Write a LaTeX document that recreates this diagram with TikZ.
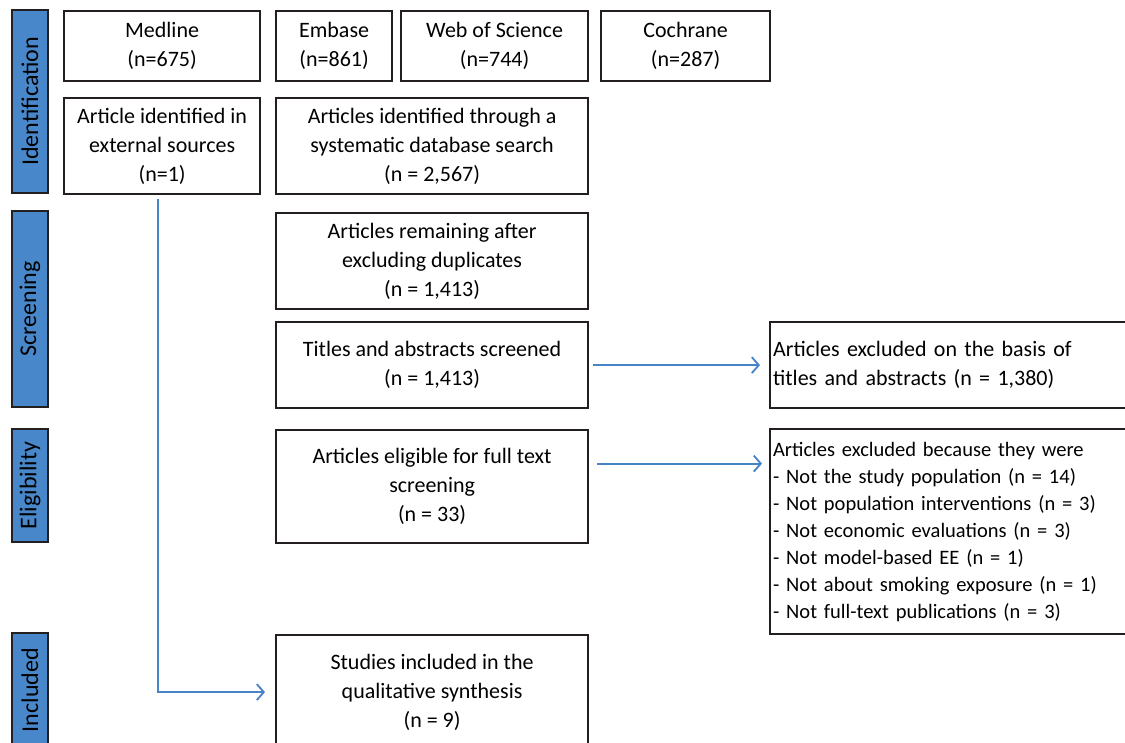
\documentclass[tikz,border=0pt]{standalone}
\usepackage{fontspec}
\setmainfont{Carlito}
\usepackage{xcolor}
\usetikzlibrary{arrows.meta}
\definecolor{barblue}{RGB}{72,136,202}
\definecolor{lineblue}{RGB}{70,132,198}
\definecolor{edgegray}{RGB}{35,31,32}
\tikzstyle{box} = [draw=edgegray,line width=2.2pt,align=center,inner sep=0pt,anchor=north west,font=\fontsize{22}{29}\selectfont]
\tikzstyle{exclbox} = [draw=edgegray,line width=2.2pt,align=left,inner xsep=3pt,inner ysep=0pt,anchor=north west,text width=364pt]
\tikzstyle{phase} = [draw=edgegray,line width=2.2pt,fill=barblue,rotate=90,inner sep=0pt,minimum height=36pt,font=\fontsize{24}{28}\selectfont]
\tikzstyle{flow} = [lineblue,line width=1.8pt,-{Straight Barb[length=7pt,width=16pt]}]

\begin{document}
\begin{tikzpicture}[x=1pt,y=-1pt]
    \clip (0,0) rectangle (1125,742);
    \fill [white] (0,0) rectangle (1125,742);

    \node [phase,minimum width=183pt] (ident) at (30,101.5) {Identification};
    \node [phase,minimum width=196pt] (screen) at (30,309) {Screening};
    \node [phase,minimum width=113pt] (eligbar) at (30,485.5) {Eligibility};
    \node [phase,minimum width=114pt] (inclbar) at (30,690) {Included};

    \node [box,minimum width=196pt,minimum height=70pt] (medline) at (63,10) {Medline\\(n=675)};
    \node [box,minimum width=116pt,minimum height=70pt] (embase) at (275,10) {Embase\\(n=861)};
    \node [box,minimum width=187pt,minimum height=70pt] (wos) at (400,10) {Web of Science\\(n=744)};
    \node [box,minimum width=169pt,minimum height=70pt] (cochrane) at (600,10) {Cochrane\\(n=287)};

    \node [box,minimum width=196pt,minimum height=96pt] (ext) at (63,97) {Article identified in\\external sources\\(n=1)};
    \node [box,minimum width=312pt,minimum height=96pt] (dbsearch) at (275,97) {Articles identified through a\\systematic database search\\(n = 2,567)};
    \node [box,minimum width=312pt,minimum height=96pt] (dedup) at (275,212) {Articles remaining after\\excluding duplicates\\(n = 1,413)};
    \node [box,minimum width=312pt,minimum height=86pt] (screened) at (275,321) {Titles and abstracts screened\\(n = 1,413)};
    \node [box,minimum width=312pt,minimum height=113pt] (elig) at (275,429) {Articles eligible for full text\\screening\\(n = 33)};
    \node [box,minimum width=312pt,minimum height=114pt] (incl) at (275,634) {Studies included in the\\qualitative synthesis\\(n = 9)};

    \node [exclbox,minimum height=86pt,font=\fontsize{22}{29}\selectfont] (excltitle) at (769,321) {Articles excluded on the basis of\\titles and abstracts (n = 1,380)};
    \node [exclbox,minimum height=205pt,font=\fontsize{20.5}{27}\selectfont] (exclfull) at (769,428) {Articles excluded because they were\\- Not the study population (n = 14)\\- Not population interventions (n = 3)\\- Not economic evaluations (n = 3)\\- Not model-based EE (n = 1)\\- Not about smoking exposure (n = 1)\\- Not full-text publications (n = 3)};

    \draw [flow,shorten <=4pt,shorten >=9pt] (screened.east) -- (excltitle.west);
    \draw [flow,shorten <=8pt,shorten >=7pt] ([yshift=23pt]elig.east) -- ([yshift=23pt]elig.east -| exclfull.west);
    \draw [flow,shorten <=4pt,shorten >=10pt] ([xshift=-4pt]ext.south) |- (incl.west);
\end{tikzpicture}
\end{document}
